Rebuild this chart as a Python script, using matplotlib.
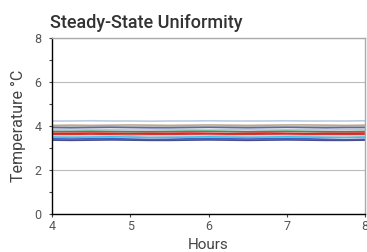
import matplotlib
matplotlib.use("Agg")
import matplotlib.pyplot as plt

hours = [4.0, 4.25, 4.5, 4.75, 5.0, 5.25, 5.5, 5.75, 6.0, 6.25, 6.5, 6.75, 7.0, 7.25, 7.5, 7.75, 8.0]

s_lightblue = [4.23, 4.23, 4.24, 4.23, 4.23, 4.22, 4.23, 4.23, 4.24, 4.23, 4.23, 4.23, 4.24, 4.23, 4.23, 4.23, 4.24]
s_tan       = [4.03, 4.04, 4.03, 4.04, 4.05, 4.04, 4.03, 4.04, 4.05, 4.04, 4.03, 4.04, 4.05, 4.05, 4.04, 4.03, 4.04]
s_slate     = [3.93, 3.92, 3.93, 3.94, 3.93, 3.92, 3.92, 3.93, 3.94, 3.93, 3.92, 3.93, 3.94, 3.93, 3.92, 3.93, 3.93]
s_gray      = [3.83, 3.82, 3.83, 3.83, 3.82, 3.82, 3.83, 3.83, 3.82, 3.83, 3.83, 3.82, 3.83, 3.83, 3.82, 3.83, 3.83]
s_green     = [3.75, 3.75, 3.76, 3.75, 3.74, 3.74, 3.75, 3.76, 3.76, 3.75, 3.74, 3.75, 3.76, 3.75, 3.74, 3.74, 3.75]
s_red1      = [3.67, 3.67, 3.68, 3.67, 3.66, 3.67, 3.67, 3.68, 3.67, 3.66, 3.67, 3.68, 3.67, 3.66, 3.67, 3.67, 3.68]
s_red2      = [3.60, 3.60, 3.61, 3.60, 3.59, 3.60, 3.61, 3.60, 3.59, 3.60, 3.61, 3.60, 3.59, 3.60, 3.61, 3.60, 3.60]
s_pink      = [3.55, 3.55, 3.56, 3.55, 3.54, 3.55, 3.55, 3.56, 3.55, 3.54, 3.55, 3.56, 3.55, 3.54, 3.55, 3.55, 3.55]
s_cyan      = [3.50, 3.49, 3.50, 3.51, 3.50, 3.48, 3.49, 3.50, 3.51, 3.50, 3.49, 3.50, 3.51, 3.50, 3.49, 3.48, 3.50]
s_blue      = [3.42, 3.41, 3.42, 3.43, 3.41, 3.39, 3.40, 3.42, 3.43, 3.42, 3.41, 3.42, 3.43, 3.42, 3.40, 3.38, 3.40]
s_navy      = [3.36, 3.35, 3.36, 3.37, 3.36, 3.35, 3.35, 3.36, 3.37, 3.36, 3.35, 3.36, 3.37, 3.36, 3.35, 3.35, 3.36]

series = [
    (s_lightblue, "#bccbe6"),
    (s_tan, "#bba98f"),
    (s_slate, "#5d6aa6"),
    (s_gray, "#c4c4d0"),
    (s_green, "#1f9e5a"),
    (s_red1, "#e3201f"),
    (s_red2, "#d93535"),
    (s_pink, "#f2c6c6"),
    (s_cyan, "#3fc2e3"),
    (s_blue, "#3f63c4"),
    (s_navy, "#4a4f8f"),
]

plt.rcParams['font.family'] = ['Roboto', 'DejaVu Sans']

fig = plt.figure(figsize=(3.67, 2.52), dpi=100)
ax = fig.add_axes([0.1417, 0.1508, 0.853, 0.698])

for vals, col in series:
    ax.plot(hours, vals, color=col, lw=1.2, solid_capstyle='butt')

ax.set_xlim(4, 8)
ax.set_ylim(0, 8)
ax.set_xticks([4, 5, 6, 7, 8])
ax.set_yticks([0, 2, 4, 6, 8])
ax.set_yticks([1, 3, 5, 7], minor=True)
ax.grid(axis='y', which='major', color='#bbbbbb', lw=0.8)
ax.set_axisbelow(True)

ax.spines['left'].set_color('black')
ax.spines['bottom'].set_color('black')
ax.spines['left'].set_linewidth(1.0)
ax.spines['bottom'].set_linewidth(1.0)
ax.spines['top'].set_color('#aaaaaa')
ax.spines['right'].set_color('#aaaaaa')
ax.spines['top'].set_linewidth(1.0)
ax.spines['right'].set_linewidth(1.0)

ax.tick_params(axis='both', which='both', length=2.5, width=0.8, color='#444444',
               labelcolor='#555555', labelsize=9, pad=1.5)
ax.tick_params(axis='y', which='major', pad=5)

ax.set_xlabel("Hours", fontsize=11, color='#444444', labelpad=4)
ax.set_ylabel("Temperature °C", fontsize=11.5, color='#444444', labelpad=6)
fig.text(0.136, 0.889, "Steady-State Uniformity", fontsize=13, fontweight='medium',
         color='#333333', ha='left', va='baseline')

fig.savefig("out.png", dpi=100)
